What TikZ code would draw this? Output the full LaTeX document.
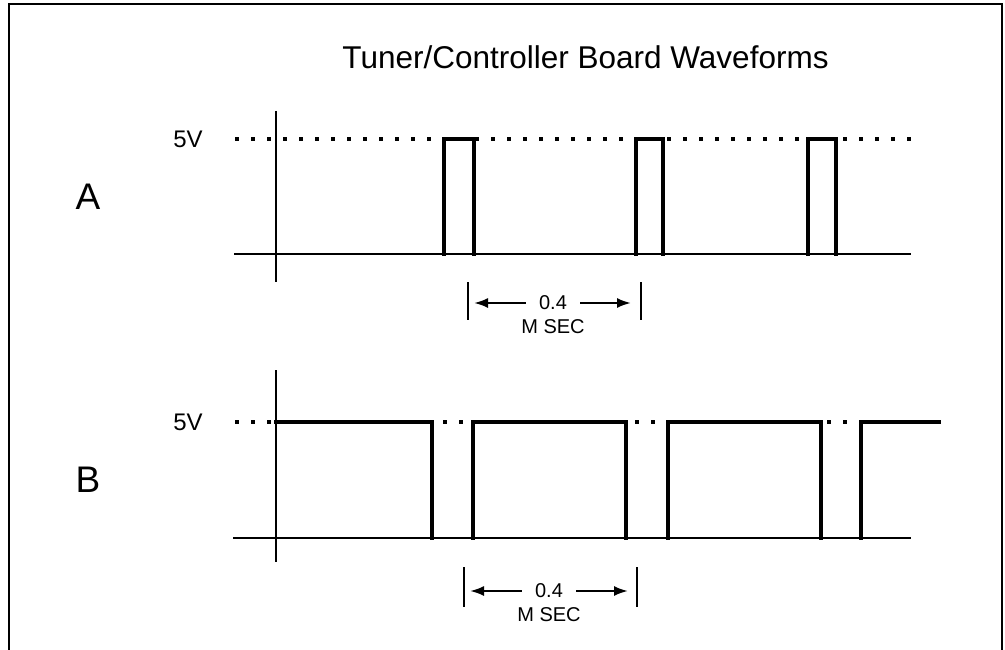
\documentclass[tikz,border=0pt]{standalone}
\usepackage{fontspec}
\setmainfont{Liberation Sans}
\usepackage{tikz}
\usetikzlibrary{arrows.meta, positioning}

\begin{document}
\begin{tikzpicture}[
                        x          = 1pt,
                        y          = -1pt,
                        ttl/.style = {font=\fontsize{31.5}{36}\selectfont, inner sep=0pt, anchor=base},
                        sig/.style = {font=\fontsize{37}{40}\selectfont, inner sep=0pt},
                        lvl/.style = {font=\fontsize{24}{28}\selectfont, inner sep=0pt},
                        num/.style = {font=\fontsize{20}{23}\selectfont, inner sep=0pt, minimum width=54pt},
                        axis/.style= {line width=1.2pt},
                        wave/.style= {line width=3.4pt, line cap=rect},
                        dots/.style= {line width=3.8pt, dash pattern=on 3.8pt off 12.2pt},
                        tick/.style= {line width=1.4pt},
                        frame/.style={line width=2.6pt},
                        ar/.style  = {-{Latex[length=14pt, width=10pt]}, line width=2.2pt}
                  ]
                  \useasboundingbox (0,0) rectangle (1005,650);
                  \draw[frame] (9,650) -- (9,4) -- (1002,4) -- (1002,650);

                  \node[ttl]  (title) at (585.5,69) {Tuner/Controller Board Waveforms};

                  \node[sig]  (sigA)  at (88,197)  {A};
                  \node[lvl]  (hiA)   at (188,139) {5V};
                  \draw[axis] (276,111) -- (276,282);
                  \draw[axis] (234,254) -- (911,254);
                  \draw[dots] (235,139) -- (912,139);
                  \foreach \s/\e in {444/474, 636/663, 808/836}
                        \draw[wave] (\s,254) -- (\s,139) -- (\e,139) -- (\e,254);

                  \draw[tick] (468,282) -- (468,320);
                  \draw[tick] (641,282) -- (641,320);
                  \coordinate (aL) at (474,303);
                  \coordinate (aR) at (631,303);
                  \node[num]  (numA)  at (553,303) {0.4};
                  \node[num]  (secA)  at (553,327) {M SEC};
                  \draw[ar] (numA.west) -- (aL);
                  \draw[ar] (numA.east) -- (aR);

                  \node[sig]  (sigB)  at (88,480)  {B};
                  \node[lvl]  (hiB)   at (188,422) {5V};
                  \draw[axis] (276,370) -- (276,562);
                  \draw[axis] (233,538) -- (911,538);
                  \draw[dots] (235,422) -- (912,422);
                  \draw[wave] (276,422) -- (432,422) -- (432,538);
                  \foreach \s/\e in {473/626, 668/821}
                        \draw[wave] (\s,538) -- (\s,422) -- (\e,422) -- (\e,538);
                  \draw[wave] (861,538) -- (861,422) -- (939,422);

                  \draw[tick] (464,567) -- (464,607);
                  \draw[tick] (637,567) -- (637,607);
                  \coordinate (bL) at (470,591);
                  \coordinate (bR) at (628,591);
                  \node[num]  (numB)  at (549,591) {0.4};
                  \node[num]  (secB)  at (549,615) {M SEC};
                  \draw[ar] (numB.west) -- (bL);
                  \draw[ar] (numB.east) -- (bR);
            \end{tikzpicture}
\end{document}
